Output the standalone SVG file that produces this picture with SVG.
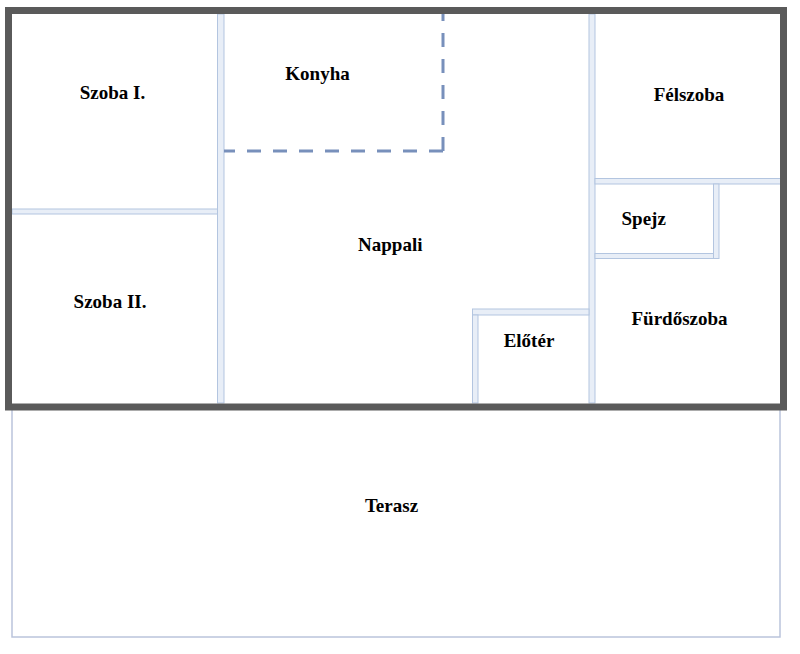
<svg xmlns="http://www.w3.org/2000/svg" width="800" height="654" viewBox="0 0 800 654">
<style>
.wall{fill:#e8eef7;stroke:#b3c5e0;stroke-width:1}
.outer{fill:none;stroke:#5a5a5a;stroke-width:7}
.dash{fill:none;stroke:#7890bb;stroke-width:3;stroke-dasharray:14 12}
.lbl{font-family:"Liberation Serif","Times New Roman",serif;font-weight:bold;font-size:19px;fill:#000;text-anchor:middle}
</style>
<rect width="800" height="654" fill="#fff"/>
<g id="terasz">
<rect x="12" y="407" width="768" height="230" fill="#fff" stroke="#bac4db" stroke-width="1.5"/>
<text class="lbl" x="391.5" y="511.5">Terasz</text>
</g>
<g id="walls">
<rect class="wall" x="217.5" y="14" width="6.5" height="389"/>
<rect class="wall" x="12" y="209" width="205.5" height="5"/>
<rect class="wall" x="589" y="14" width="6" height="389"/>
<rect class="wall" x="595" y="178.5" width="186" height="5.5"/>
<rect class="wall" x="713.5" y="184" width="5.5" height="74.5"/>
<rect class="wall" x="595" y="253.5" width="118.5" height="5"/>
<rect class="wall" x="472.5" y="309" width="116.5" height="6"/>
<rect class="wall" x="472.5" y="315" width="5.5" height="88"/>
</g>
<g id="konyha-border">
<path class="dash" d="M443,151 H224"/>
<path class="dash" d="M443,151 V14"/>
</g>
<rect class="outer" x="8.5" y="10.5" width="775" height="396.5"/>
<g id="szoba1"><text class="lbl" x="112.5" y="98.5">Szoba I.</text></g>
<g id="szoba2"><text class="lbl" x="110" y="307.5">Szoba II.</text></g>
<g id="konyha"><text class="lbl" x="317.5" y="80">Konyha</text></g>
<g id="nappali"><text class="lbl" x="390.3" y="251">Nappali</text></g>
<g id="felszoba"><text class="lbl" x="689" y="100.5">Félszoba</text></g>
<g id="spejz"><text class="lbl" x="643.7" y="224.5">Spejz</text></g>
<g id="furdoszoba"><text class="lbl" x="679.5" y="325">Fürdőszoba</text></g>
<g id="eloter"><text class="lbl" x="529" y="347">Előtér</text></g>
</svg>
